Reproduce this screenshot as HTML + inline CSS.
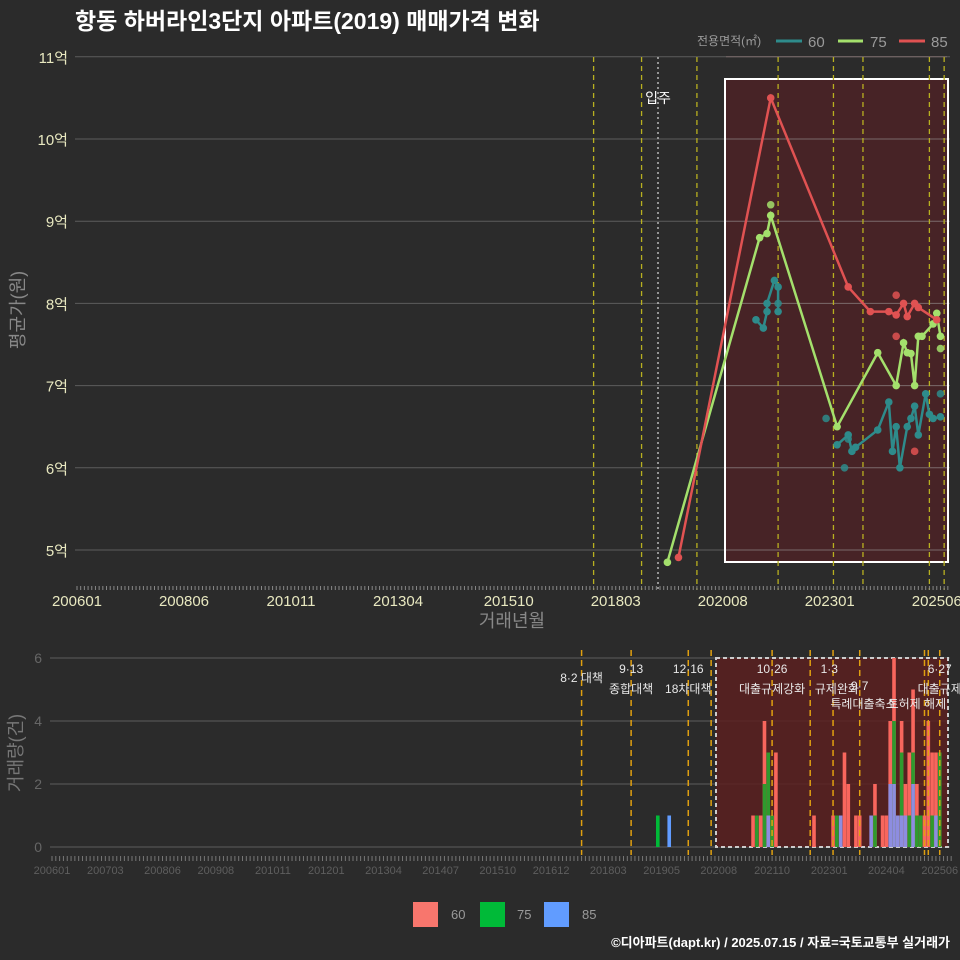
<!DOCTYPE html>
<html><head><meta charset="utf-8"><style>
html,body{margin:0;padding:0;background:#2b2b2b;}
svg{display:block;font-family:"Liberation Sans","Noto Sans CJK KR",sans-serif;}
</style></head><body>
<svg id="c" width="960" height="960" viewBox="0 0 960 960">
<rect x="0" y="0" width="960" height="960" fill="#2b2b2b"/>
<text x="75" y="29" fill="#ffffff" font-size="23" font-weight="bold">항동 하버라인3단지 아파트(2019) 매매가격 변화</text>
<g id="topPanel"></g>
<g id="botPanel"></g>
<g>
<text x="697" y="45" fill="#9a9a9a" font-size="12">전용면적(㎡)</text>
<line x1="776" y1="41" x2="802" y2="41" stroke="#2e8b8b" stroke-width="3"/>
<text x="808" y="47" fill="#9a9a9a" font-size="15">60</text>
<line x1="838" y1="41" x2="863" y2="41" stroke="#a4e06c" stroke-width="3"/>
<text x="870" y="47" fill="#9a9a9a" font-size="15">75</text>
<line x1="899" y1="41" x2="925" y2="41" stroke="#e05252" stroke-width="3"/>
<text x="931" y="47" fill="#9a9a9a" font-size="15">85</text>
</g>
<g>
<rect x="413" y="902" width="25" height="25" fill="#f8766d"/>
<text x="451" y="919" fill="#9a9a9a" font-size="13">60</text>
<rect x="480" y="902" width="25" height="25" fill="#00ba38"/>
<text x="517" y="919" fill="#9a9a9a" font-size="13">75</text>
<rect x="544" y="902" width="25" height="25" fill="#619cff"/>
<text x="582" y="919" fill="#9a9a9a" font-size="13">85</text>
</g>
<text x="950" y="947" fill="#ffffff" font-size="13" font-weight="bold" text-anchor="end">©디아파트(dapt.kr) / 2025.07.15 / 자료=국토교통부 실거래가</text>
</svg>
<script>
// ---- data ----
const m60 = ["202105","202107","202108","202108","202110","202111","202111","202303","202306","202307","202308","202402","202405","202406","202407","202408","202410","202411","202412","202501","202503","202504","202505","202507"];
const v60 = [7.8,7.7,7.9,8.0,8.28,8.2,7.9,6.28,6.4,6.2,6.25,6.46,6.8,6.2,6.5,6.0,6.5,6.6,6.75,6.4,6.9,6.65,6.6,6.62];
const m75 = ["201905","202106","202108","202109","202303","202402","202407","202409","202410","202411","202412","202501","202502","202505","202506","202507"];
const v75 = [4.85,8.8,8.85,9.07,6.5,7.4,7.0,7.52,7.4,7.39,7.0,7.6,7.6,7.75,7.88,7.6];
const m85 = ["201908","202109","202306","202312","202405","202407","202409","202410","202412","202501","202506"];
const v85 = [4.91,10.5,8.2,7.9,7.9,7.86,8.0,7.84,8.0,7.95,7.8];
const dotM = ["202109","202111","202212","202305","202306","202407","202407","202412","202507","202507"];
const dotV = [9.2,8.0,6.6,6.0,6.35,8.1,7.6,6.2,7.45,6.9];
const dotS = ["75","60","60","60","60","85","85","85","75","60"];
const yTicks = [5,6,7,8,9,10,11];
const xTop = ["200601","200806","201011","201304","201510","201803","202008","202301","202506"];
const xBot = ["200601","200703","200806","200908","201011","201201","201304","201407","201510","201612","201803","201905","202008","202110","202301","202404","202506"];
const barM = ["201904","201907","202105","202106","202107","202108","202109","202110","202111","202209","202302","202303","202304","202305","202306","202308","202309","202312","202401","202403","202404","202405","202406","202407","202408","202409","202410","202411","202412","202501","202502","202503","202504","202505","202506"];
const b60 = [0,0,1,0,1,4,0,1,3,1,1,0,0,3,2,1,1,0,2,1,1,4,6,1,4,2,3,5,2,0,1,4,3,3,3];
const b75 = [1,0,0,1,0,2,3,1,0,0,0,1,0,0,0,0,0,0,1,0,0,0,4,0,3,0,1,3,1,1,0,0,1,1,3];
const b85 = [0,1,0,0,0,0,1,0,0,0,0,0,1,0,0,0,0,1,0,0,0,2,2,1,1,1,0,2,0,0,0,0,0,1,0];
const bTicks = [0,2,4,6];
const topLines = ["201709","201810","202001","202111","202302","202310","202504","202508"];
const botLines = ["201708","201809","201912","202006","202110","202208","202302","202309","202502","202503","202506"];
const notes1 = [["201708","8·2 대책",677],["201809","9·13",668],["201809","종합대책",688],["201912","12·16",668],["201912","18차대책",688],["202110","10·26",668],["202110","대출규제강화",688],["202301","1·3",668],["202303","규제완화",688],["202309","9·7",685],["202310","특례대출축소",703],["202412","토허제 해제",703],["202506","6·27",668],["202506","대출규제",688]];

const NS="http://www.w3.org/2000/svg";
function mi(s){return (parseInt(s.slice(0,4))-2006)*12+parseInt(s.slice(4))-1;}
function mk(p,t,a){const e=document.createElementNS(NS,t);for(const k in a)e.setAttribute(k,a[k]);p.appendChild(e);return e;}
const topG=document.getElementById('topPanel'), botG=document.getElementById('botPanel');
const tx=m=>77+mi(m)*3.69, ty=v=>550-(v-5)*82.2;
const ax=m=>52+mi(m)*3.81, ay=v=>847-v*31.5;
yTicks.forEach(v=>{
 const l=mk(topG,'line',{x1:75,x2:950,y1:ty(v),y2:ty(v),stroke:'#5c5c5c','stroke-width':1});
 
 
 const t=mk(topG,'text',{x:68,y:ty(v)+6,fill:'#e8e8c0','font-size':15,'text-anchor':'end'});t.textContent=v+'억';
 
 
});
const box=mk(topG,'rect',{x:725,y:79,width:223,height:483,fill:'#4a2226','fill-opacity':0.9,stroke:'#ffffff','stroke-width':2});


yTicks.forEach(v=>{const l=mk(topG,'line',{x1:726,x2:947,y1:ty(v),y2:ty(v),stroke:'#7a6a6a','stroke-width':1});
 
 });
topLines.forEach(m=>{const l=mk(topG,'line',{x1:tx(m),x2:tx(m),y1:57,y2:590,stroke:'#b8b020','stroke-width':1.3,'stroke-dasharray':'5,4'});
 
 });
const mv=mk(topG,'line',{x1:658,x2:658,y1:57,y2:590,stroke:'#cccccc','stroke-width':1.3,'stroke-dasharray':'2,3'});


const mvt=mk(topG,'text',{x:658,y:103,fill:'#ffffff','font-size':14,'text-anchor':'middle'});mvt.textContent='입주';


for(let i=0;i<=236;i++){const l=mk(topG,'line',{x1:77+i*3.69,x2:77+i*3.69,y1:586,y2:590,stroke:'#888','stroke-width':1});
 
 }
xTop.forEach(m=>{const t=mk(topG,'text',{x:tx(m),y:606,fill:'#e8e8c0','font-size':15,'text-anchor':'middle'});t.textContent=m;
 
 });
const xt=mk(topG,'text',{x:512,y:627,fill:'#888','font-size':18,'text-anchor':'middle'});xt.textContent='거래년월';


const yt=mk(topG,'text',{x:24,y:310,fill:'#888','font-size':18,'text-anchor':'middle',transform:'rotate(-90 24 310)'});yt.textContent='평균가(원)';


function series(ms,vs,col,name,maxGap){
 let segs=[[]];
 ms.forEach((m,i)=>{
  const cur=segs[segs.length-1];
  if(cur.length && maxGap && mi(m)-mi(ms[i-1])>maxGap) segs.push([]);
  segs[segs.length-1].push(tx(m)+','+ty(vs[i]));
 });
 segs.forEach(s=>{
  const pl=mk(topG,'polyline',{points:s.join(' '),fill:'none',stroke:col,'stroke-width':2.5});
  
  
 });
 ms.forEach((m,i)=>{const c=mk(topG,'circle',{cx:tx(m),cy:ty(vs[i]),r:3.8,fill:col});
  
  });
}
const colS={"60":"#2e8b8b","75":"#a4e06c","85":"#e05252"};
series(m60,v60,colS["60"],'60',6);
series(m75,v75,colS["75"],'75',0);
series(m85,v85,colS["85"],'85',0);
dotM.forEach((m,i)=>{const c=mk(topG,'circle',{cx:tx(m),cy:ty(dotV[i]),r:3.8,fill:colS[dotS[i]],'fill-opacity':0.85});
 
 });

bTicks.forEach(v=>{const l=mk(botG,'line',{x1:50,x2:950,y1:ay(v),y2:ay(v),stroke:'#5c5c5c','stroke-width':1});
 
 
 const t=mk(botG,'text',{x:42,y:ay(v)+5,fill:'#666','font-size':14,'text-anchor':'end'});t.textContent=v;
 
 });
const bb=mk(botG,'rect',{x:716,y:658,width:232,height:189,fill:'#5a2020','fill-opacity':0.85,stroke:'#cccccc','stroke-width':2,'stroke-dasharray':'4,3'});


const bw=3.6;
barM.forEach((m,i)=>{
 [[b60[i],'#f8665d','bar-60'],[b75[i],'#2e9a2e','bar-75'],[b85[i],'#8d8de0','bar-85']].forEach(([v,c,n])=>{
  if(v>0){const r=mk(botG,'rect',{x:ax(m)-bw/2,y:ay(v),width:bw,height:ay(0)-ay(v),fill:(mi(m)<180?(n==='bar-75'?'#00ba38':'#619cff'):c)});
   
   }
 });
});
botLines.forEach(m=>{const l=mk(botG,'line',{x1:ax(m),x2:ax(m),y1:650,y2:855,stroke:'#e0a010','stroke-width':1.5,'stroke-dasharray':'6,4'});
 
 });
notes1.forEach(([m,s,y])=>{const t=mk(botG,'text',{x:ax(m),y:y+5,fill:'#e8e8e8','font-size':12,'text-anchor':'middle'});t.textContent=s;
 
 });
for(let i=0;i<=236;i++){const l=mk(botG,'line',{x1:52+i*3.81,x2:52+i*3.81,y1:856,y2:861,stroke:'#777','stroke-width':1});
 
 }
xBot.forEach(m=>{const t=mk(botG,'text',{x:ax(m),y:874,fill:'#5e5e5e','font-size':11,'text-anchor':'middle'});t.textContent=m;
 
 });
const by=mk(botG,'text',{x:22,y:753,fill:'#777','font-size':18,'text-anchor':'middle',transform:'rotate(-90 22 753)'});by.textContent='거래량(건)';


</script>
</body></html>
